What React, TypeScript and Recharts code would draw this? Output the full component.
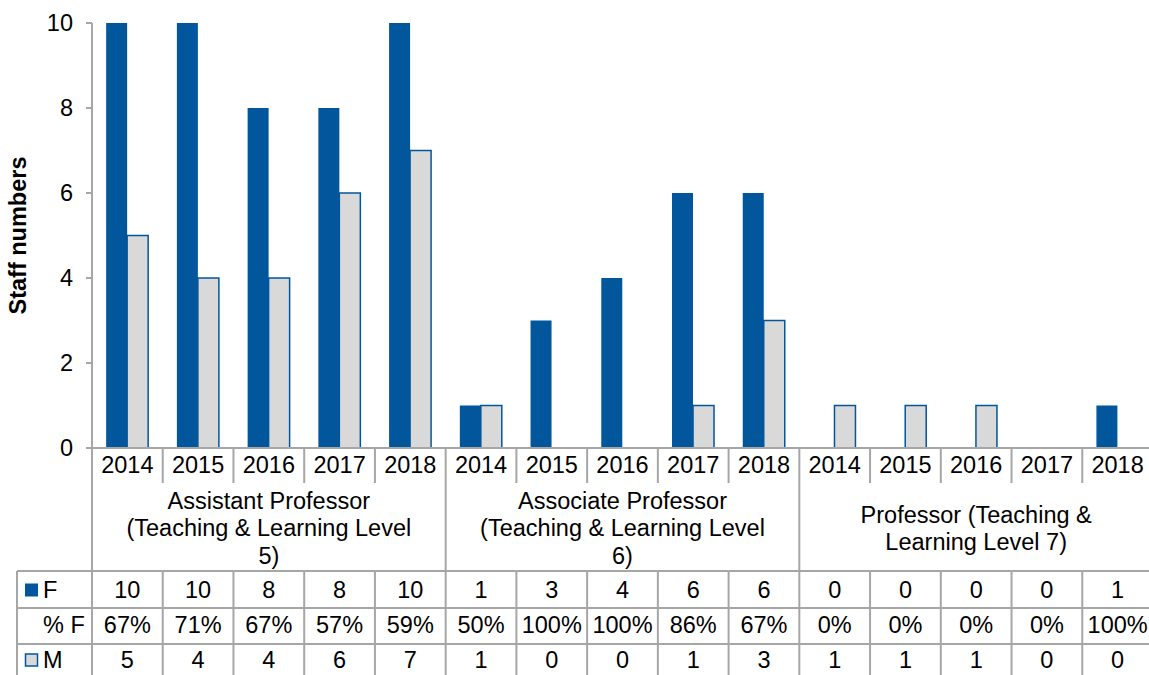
import { BarChart, Bar, XAxis, YAxis } from 'recharts';

// ---- data ----
const years = ['2014', '2015', '2016', '2017', '2018', '2014', '2015', '2016', '2017', '2018', '2014', '2015', '2016', '2017', '2018'];
const groupLabels = [
    ['Assistant Professor', '(Teaching & Learning Level', '5)'],
    ['Associate Professor', '(Teaching & Learning Level', '6)'],
    ['Professor (Teaching &', 'Learning Level 7)'],
];
const femaleCounts = [10, 10, 8, 8, 10, 1, 3, 4, 6, 6, 0, 0, 0, 0, 1];
const femalePct = ['67%', '71%', '67%', '57%', '59%', '50%', '100%', '100%', '86%', '67%', '0%', '0%', '0%', '0%', '100%'];
const maleCounts = [5, 4, 4, 6, 7, 1, 0, 0, 1, 3, 1, 1, 1, 0, 0];
const yTicks = [0, 2, 4, 6, 8, 10];

const data = years.map((year, i) => ({ id: String(i), year, F: femaleCounts[i], M: maleCounts[i] }));

// ---- styling ----
const BLUE = '#02569b';
const LIGHT = '#d9d9d9';
const GRID = '#a6a6a6';
const FONT = '"Liberation Sans", Arial, sans-serif';
const FS = 23.5;

const CHART_W = 1153;
const CHART_H = 675;
const Y_AXIS_W = 92;
const X_AXIS_H = 227;
const COL_W = (CHART_W - Y_AXIS_W) / years.length;

// offsets below the x axis line
const ROW_YEAR = 17;
const YEAR_SEP = 35;
const ROW_GROUP_TOP = 123;
const ROW_F = 142;
const LINE_F = 160;
const ROW_PCT = 177;
const LINE_PCT = 196;
const ROW_M = 212;

function Txt({ x, y, children, anchor = 'middle' }: any) {
    return (
        <text x={x} y={y} dy="0.36em" textAnchor={anchor} fontSize={FS} fill="#000" fontFamily={FONT}>
            {children}
        </text>
    );
}

// each tick draws its own column of the data table
function TableTick(props: any) {
    const { x, y, payload } = props;
    const i: number = props.index ?? payload.index;
    const left = x - COL_W / 2;
    const right = x + COL_W / 2;
    const groupStart = i % 5 === 0;
    const items: any[] = [];

    // vertical separators
    if (groupStart) {
        items.push(<line key="vl" x1={left} x2={left} y1={y} y2={y + X_AXIS_H} stroke={GRID} strokeWidth={2} />);
    } else {
        items.push(<line key="vs" x1={left} x2={left} y1={y} y2={y + YEAR_SEP} stroke={GRID} strokeWidth={2} />);
        items.push(<line key="vt" x1={left} x2={left} y1={y + ROW_GROUP_TOP} y2={y + X_AXIS_H} stroke={GRID} strokeWidth={2} />);
    }
    if (i === years.length - 1) {
        items.push(<line key="vr" x1={right} x2={right} y1={y} y2={y + X_AXIS_H} stroke={GRID} strokeWidth={2} />);
    }

    // horizontal row lines
    [ROW_GROUP_TOP, LINE_F, LINE_PCT].forEach((off, k) => {
        items.push(<line key={'h' + k} x1={left} x2={right} y1={y + off} y2={y + off} stroke={GRID} strokeWidth={2} />);
    });

    items.push(<Txt key="yr" x={x} y={y + ROW_YEAR}>{payload.value !== undefined ? years[i] : ''}</Txt>);
    items.push(<Txt key="f" x={x} y={y + ROW_F}>{femaleCounts[i]}</Txt>);
    items.push(<Txt key="p" x={x} y={y + ROW_PCT}>{femalePct[i]}</Txt>);
    items.push(<Txt key="m" x={x} y={y + ROW_M}>{maleCounts[i]}</Txt>);

    // group label in the middle column
    if (i % 5 === 2) {
        const lines = groupLabels[Math.floor(i / 5)];
        const lineH = 27.5;
        const center = y + 80;
        lines.forEach((ln, k) => {
            const ly = center + (k - (lines.length - 1) / 2) * lineH;
            items.push(<Txt key={'g' + k} x={x} y={ly}>{ln}</Txt>);
        });
    }

    // legend column on the left of the table
    if (i === 0) {
        const lx = 17;
        [ROW_GROUP_TOP, LINE_F, LINE_PCT].forEach((off, k) => {
            items.push(<line key={'lh' + k} x1={lx} x2={left} y1={y + off} y2={y + off} stroke={GRID} strokeWidth={2} />);
        });
        items.push(<line key="lv" x1={lx} x2={lx} y1={y + ROW_GROUP_TOP} y2={y + X_AXIS_H} stroke={GRID} strokeWidth={2} />);
        items.push(<rect key="kf" x={25} y={y + ROW_F - 6.5} width={13} height={13} fill={BLUE} />);
        items.push(<Txt key="lf" x={43} y={y + ROW_F} anchor="start">F</Txt>);
        items.push(<Txt key="lp" x={43} y={y + ROW_PCT} anchor="start">% F</Txt>);
        items.push(<rect key="km" x={25.5} y={y + ROW_M - 6} width={12} height={12} fill={LIGHT} stroke={BLUE} strokeWidth={1.5} />);
        items.push(<Txt key="lm" x={43} y={y + ROW_M} anchor="start">M</Txt>);
    }

    return <g>{items}</g>;
}

function YLabel(props: any) {
    const vb = props.viewBox || { x: 0, y: 23, width: 92, height: 425 };
    const cx = 18;
    const cy = vb.y + vb.height / 2;
    return (
        <text
            x={cx}
            y={cy}
            transform={`rotate(-90, ${cx}, ${cy})`}
            textAnchor="middle"
            dy="0.36em"
            fontSize={FS}
            fontWeight="bold"
            fontFamily={FONT}
            fill="#000"
        >
            Staff numbers
        </text>
    );
}

export default function App() {
    return (
        <div
            style={{
                position: 'absolute',
                left: 0,
                top: 0,
                width: 1149,
                height: 675,
                overflow: 'hidden',
                background: '#fff',
            }}
        >
            <BarChart
                width={CHART_W}
                height={CHART_H}
                data={data}
                margin={{ top: 23, right: 0, left: 0, bottom: 0 }}
                barCategoryGap="20%"
                barGap={0}
                style={{ fontFamily: FONT }}
            >
                <XAxis
                    dataKey="id"
                    interval={0}
                    height={X_AXIS_H}
                    tickLine={false}
                    tickSize={0}
                    tickMargin={0}
                    axisLine={{ stroke: GRID, strokeWidth: 2 }}
                    tick={<TableTick />}
                />
                <YAxis
                    width={Y_AXIS_W}
                    domain={[0, 10]}
                    ticks={yTicks}
                    interval={0}
                    axisLine={{ stroke: GRID, strokeWidth: 2 }}
                    tickLine={{ stroke: GRID, strokeWidth: 2 }}
                    tickSize={6}
                    tickMargin={13}
                    tick={{ fontSize: FS, fill: '#000', fontFamily: FONT }}
                    label={<YLabel />}
                />
                <Bar dataKey="F" fill={BLUE} isAnimationActive={false} />
                <Bar dataKey="M" fill={LIGHT} stroke={BLUE} strokeWidth={1.5} isAnimationActive={false} />
            </BarChart>
        </div>
    );
}
